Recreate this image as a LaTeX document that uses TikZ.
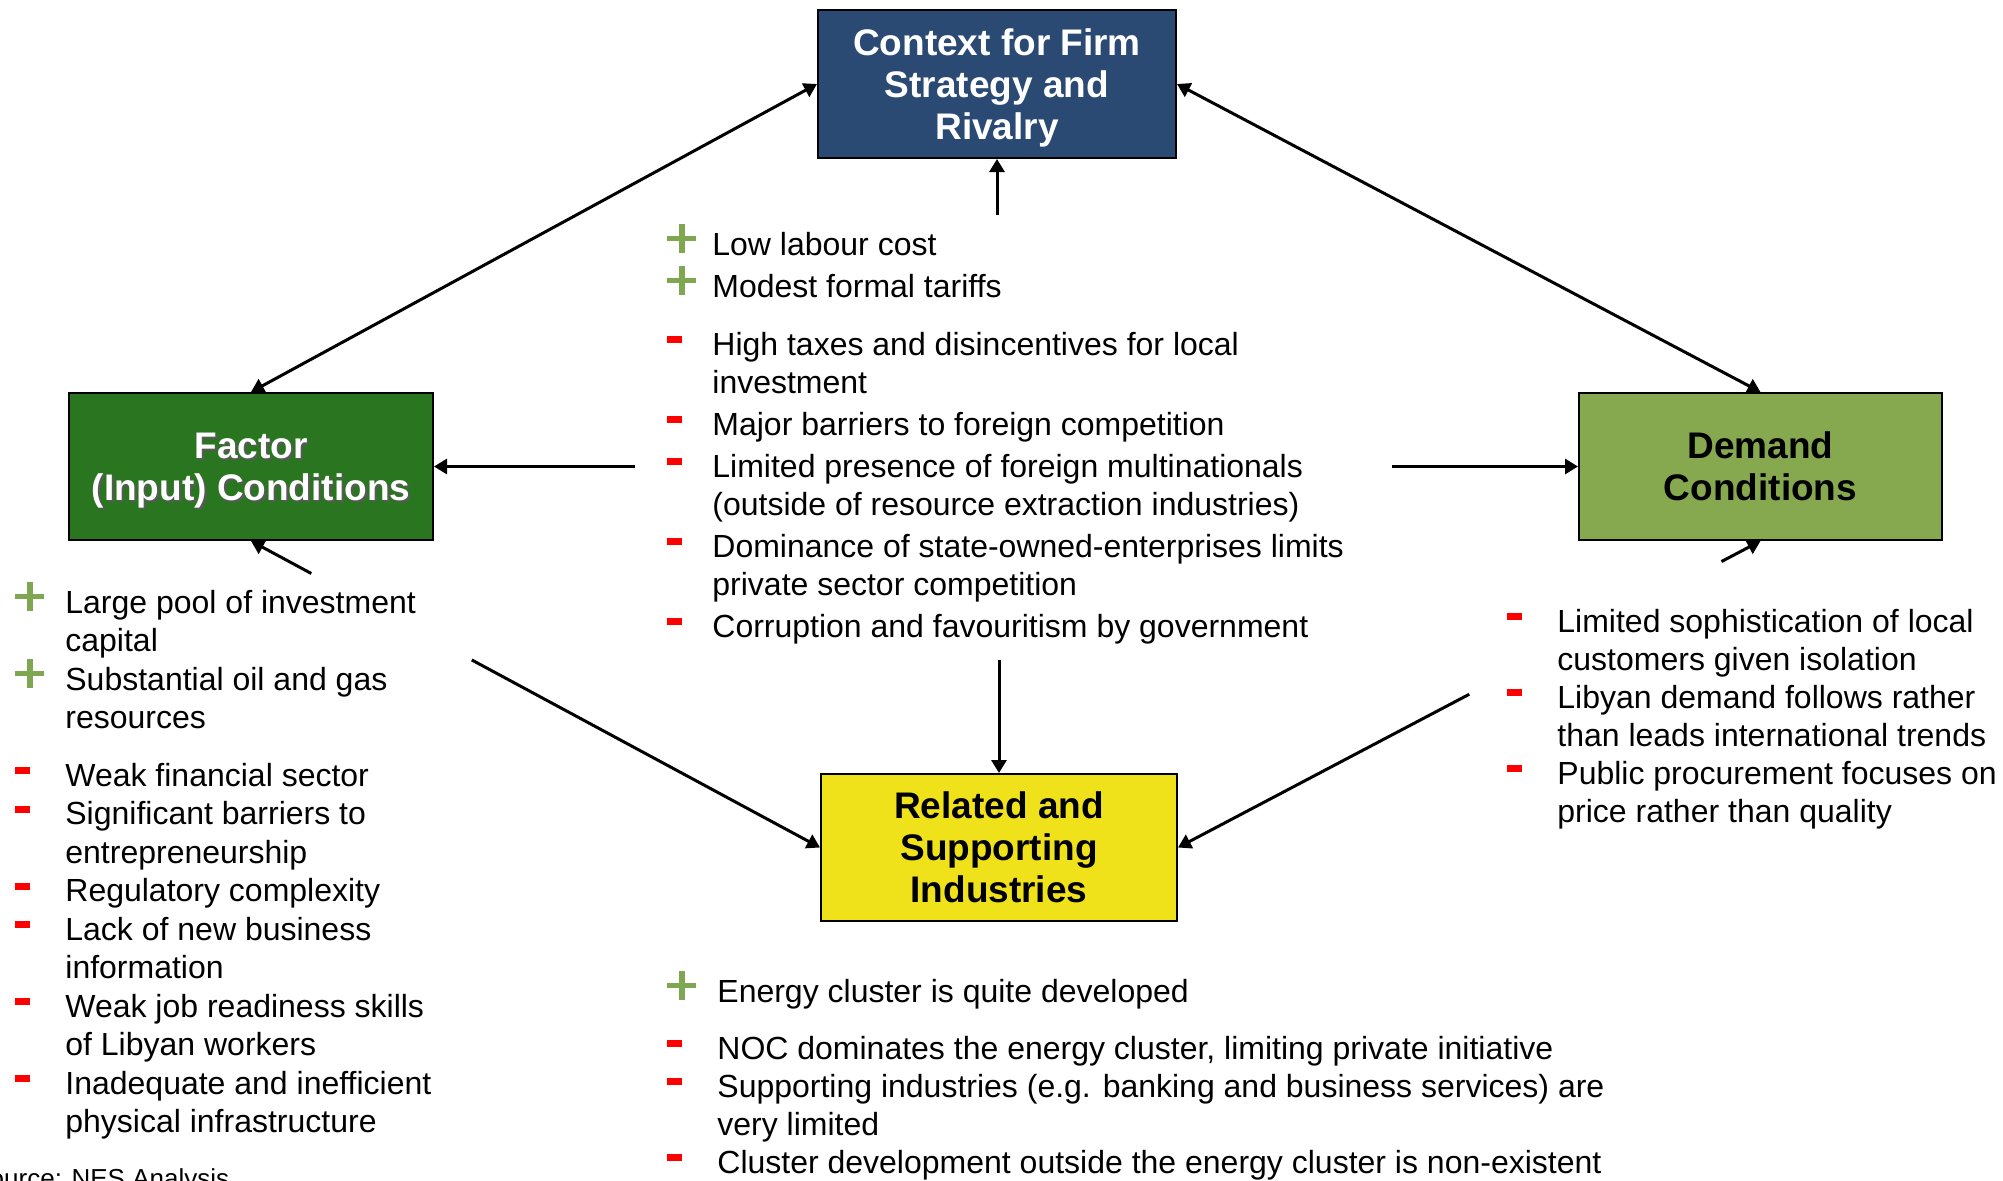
\documentclass[tikz,border=0pt]{standalone}
\usepackage{fontspec}
\setmainfont{Liberation Sans}
\usepackage{xcolor}
\usetikzlibrary{arrows.meta,calc}

\definecolor{ctxblue}{RGB}{42,74,115}
\definecolor{factorgreen}{RGB}{42,117,32}
\definecolor{demandgreen}{RGB}{134,168,78}
\definecolor{relyellow}{RGB}{240,226,26}
\definecolor{plusgreen}{RGB}{127,166,80}
\definecolor{minusred}{RGB}{255,0,0}

\newlength{\bulw}
\setlength{\bulw}{25pt}
\newcommand{\pro}{\makebox[\bulw][l]{\raisebox{0pt}[0pt][0pt]{\textcolor{plusgreen}{\rlap{\rule[7pt]{14.5pt}{2.7pt}}\kern5.9pt\rule[1pt]{2.7pt}{14.5pt}}}}}
\newcommand{\con}{\makebox[\bulw][l]{\raisebox{0pt}[0pt][0pt]{\textcolor{minusred}{\rule[6pt]{7.5pt}{3.5pt}}}}}
\newcommand{\shadowed}[1]{\rlap{\kern1pt\raisebox{-1pt}{\textcolor{black!65}{#1}}}#1}

\begin{document}
\begin{tikzpicture}[x=0.5pt,y=-0.5pt,
  box/.style={draw=black, line width=1pt, align=center, text depth=0pt, font=\bfseries\fontsize{18.5}{21}\selectfont},
  bullets/.style={anchor=base west, inner sep=0pt, font=\fontsize{16}{19}\selectfont},
  link/.style={line width=1.5pt, -{Triangle[length=6.5pt,width=7.5pt]}},
  twoway/.style={line width=1.5pt, {Triangle[length=6.5pt,width=7.5pt]}-{Triangle[length=6.5pt,width=7.5pt]}}]
\useasboundingbox (0,0) rectangle (2003,1180);
\clip (0,0) rectangle (2003,1180);

% the four boxes
\node[box, fill=ctxblue, text=white, minimum width=179pt, minimum height=74pt] (ctx) at (997,84) {Context for Firm\\Strategy and\\Rivalry};
\node[box, fill=factorgreen, text=white, minimum width=182pt, minimum height=73.5pt] (factor) at (251,466.5) {\shadowed{Factor}\\\shadowed{(Input) Conditions}};
\node[box, fill=demandgreen, minimum width=181.5pt, minimum height=73.5pt] (demand) at (1760.5,466.5) {Demand\\Conditions};
\node[box, fill=relyellow, minimum width=178pt, minimum height=73.5pt] (related) at (999,847.5) {Related and\\Supporting\\Industries};

% lists
\node[bullets] (ctxlist) at (667,255) {\setlength{\bulw}{22.5pt}%
\begin{tabular}[t]{@{}l@{}l@{}}
\pro & Low labour cost\\[2pt]
\pro & Modest formal tariffs\\[10pt]
\con & High taxes and disincentives for local\\
     & investment\\[2pt]
\con & Major barriers to foreign competition\\[2pt]
\con & Limited presence of foreign multinationals\\
     & (outside of resource extraction industries)\\[2pt]
\con & Dominance of state-owned-enterprises limits\\
     & private sector competition\\[2pt]
\con & Corruption and favouritism by government
\end{tabular}};

\node[bullets, font=\fontsize{16}{19.25}\selectfont] (factorlist) at (15,613) {%
\begin{tabular}[t]{@{}l@{}l@{}}
\pro & Large pool of investment\\
     & capital\\
\pro & Substantial oil and gas\\
     & resources\\[9.5pt]
\con & Weak financial sector\\
\con & Significant barriers to\\
     & entrepreneurship\\
\con & Regulatory complexity\\
\con & Lack of new business\\
     & information\\
\con & Weak job readiness skills\\
     & of Libyan workers\\
\con & Inadequate and inefficient\\
     & physical infrastructure
\end{tabular}};

\node[bullets] (demandlist) at (1507,632) {%
\begin{tabular}[t]{@{}l@{}l@{}}
\con & Limited sophistication of local\\
     & customers given isolation\\
\con & Libyan demand follows rather\\
     & than leads international trends\\
\con & Public procurement focuses on\\
     & price rather than quality
\end{tabular}};

\node[bullets] (relatedlist) at (667,1002) {%
\begin{tabular}[t]{@{}l@{}l@{}}
\pro & Energy cluster is quite developed\\[9.5pt]
\con & NOC dominates the energy cluster, limiting private initiative\\
\con & Supporting industries (e.g. banking and business services) are\\
     & very limited\\
\con & Cluster development outside the energy cluster is non-existent
\end{tabular}};

\node[anchor=base west, inner sep=0pt, font=\fontsize{13}{15}\selectfont] (source) at (-28,1187) {Source: NES Analysis};

% connectors
\coordinate (ctxtop) at (997,215);
\coordinate (ctxleft) at (635,466.5);
\coordinate (ctxright) at (1392,466.5);
\coordinate (ctxbottom) at (999,660);

\draw[twoway] (ctx.west) -- (factor.north);
\draw[twoway] (ctx.east) -- (demand.north);
\draw[link] (ctxtop) -- (ctx.south);
\draw[link] (ctxleft) -- (factor.east);
\draw[link] (ctxright) -- (demand.west);
\draw[link] (ctxbottom) -- (related.north);
% broken by the side lists
\draw[link] ($(factor.south)!0.106!(related.west)$) -- (factor.south);
\draw[link] ($(factor.south)!0.388!(related.west)$) -- (related.west);
\draw[link] ($(demand.south)!0.067!(related.east)$) -- (demand.south);
\draw[link] ($(demand.south)!0.5!(related.east)$) -- (related.east);
\end{tikzpicture}
\end{document}
